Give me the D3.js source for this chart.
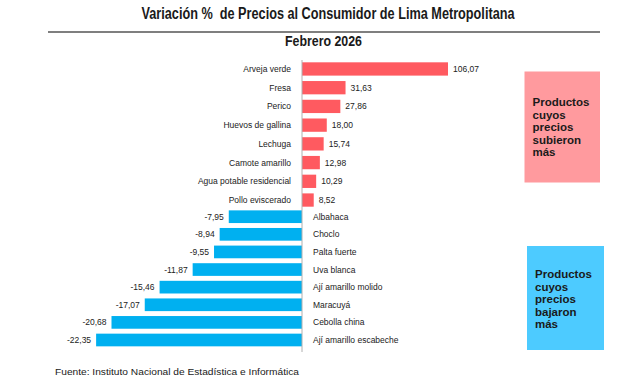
<!DOCTYPE html>
<html lang="es">
<head>
<meta charset="utf-8">
<title>Variación % de Precios al Consumidor</title>
<script src="https://d3js.org/d3.v7.min.js"></script>
<style>
  body { margin: 0; background: #fff; }
  text { font-family: "Liberation Sans", Arial, sans-serif; }
</style>
</head>
<body>
<script>
  // Data
  var posCats = ["Arveja verde", "Fresa", "Perico", "Huevos de gallina", "Lechuga",
                 "Camote amarillo", "Agua potable residencial", "Pollo eviscerado"];
  var posVals = [106.07, 31.63, 27.86, 18.00, 15.74, 12.98, 10.29, 8.52];
  var negCats = ["Albahaca", "Choclo", "Palta fuerte", "Uva blanca", "Ají amarillo molido",
                 "Maracuyá", "Cebolla china", "Ají amarillo escabeche"];
  var negVals = [-7.95, -8.94, -9.55, -11.87, -15.46, -17.07, -20.68, -22.35];
  var boxUp = ["Productos", "cuyos", "precios", "subieron", "más"];
  var boxDown = ["Productos", "cuyos", "precios", "bajaron", "más"];

  var width = 640, height = 388;
  var x0 = 302;

  var svg = d3.select("body").append("svg")
      .attr("width", width)
      .attr("height", height);

  var fmt = d3.formatLocale({ decimal: ",", thousands: ".", grouping: [3], currency: ["", ""], minus: "-" }).format(".2f");

  // the two halves use different scales (as in the original)
  var xPos = d3.scaleLinear().domain([0, 110]).range([x0, x0 + 151.4]);
  var xNeg = d3.scaleLinear().domain([-25, 0]).range([x0 - 230.3, x0]);

  var yPos = d3.scaleBand().domain(posCats).range([59.6, 209.4]).paddingInner(0.29).paddingOuter(0.145);
  var yNeg = d3.scaleBand().domain(negCats).range([207.9, 348.8]).paddingInner(0.28).paddingOuter(0.14);

  var posData = posCats.map(function(c, i) { return { cat: c, val: posVals[i] }; });
  var negData = negCats.map(function(c, i) { return { cat: c, val: negVals[i] }; });

  // Titles
  svg.append("text")
      .attr("x", 141.5).attr("y", 19)
      .attr("textLength", 373).attr("lengthAdjust", "spacingAndGlyphs")
      .style("font-family", "'Liberation Sans Narrow', 'Liberation Sans', Arial, sans-serif")
      .style("font-size", "16px").style("font-weight", "bold").style("white-space", "pre")
      .attr("fill", "#1a1a1a")
      .text("Variación %  de Precios al Consumidor de Lima Metropolitana");

  svg.append("line")
      .attr("x1", 48).attr("x2", 600).attr("y1", 32).attr("y2", 32)
      .attr("stroke", "#555").attr("stroke-width", 1.5);

  svg.append("text")
      .attr("x", 285).attr("y", 45.5)
      .attr("textLength", 77).attr("lengthAdjust", "spacingAndGlyphs")
      .style("font-family", "'Liberation Sans Narrow', 'Liberation Sans', Arial, sans-serif")
      .style("font-size", "14px").style("font-weight", "bold").attr("fill", "#1a1a1a")
      .text("Febrero 2026");

  // Positive bars
  var gp = svg.append("g");
  gp.selectAll("rect").data(posData).enter().append("rect")
      .attr("x", x0)
      .attr("y", function(d) { return yPos(d.cat); })
      .attr("width", function(d) { return xPos(d.val) - x0; })
      .attr("height", yPos.bandwidth())
      .attr("fill", "#ff5a60");
  gp.selectAll(".cat").data(posData).enter().append("text")
      .attr("x", x0 - 11)
      .attr("y", function(d) { return yPos(d.cat) + yPos.bandwidth() / 2; })
      .attr("dy", "0.35em").attr("text-anchor", "end")
      .style("font-size", "8.5px").attr("fill", "#222")
      .text(function(d) { return d.cat; });
  gp.selectAll(".val").data(posData).enter().append("text")
      .attr("x", function(d) { return xPos(d.val) + 5; })
      .attr("y", function(d) { return yPos(d.cat) + yPos.bandwidth() / 2; })
      .attr("dy", "0.35em")
      .style("font-size", "8.5px").attr("fill", "#222")
      .text(function(d) { return fmt(d.val); });

  // Negative bars
  var gn = svg.append("g");
  gn.selectAll("rect").data(negData).enter().append("rect")
      .attr("x", function(d) { return xNeg(d.val); })
      .attr("y", function(d) { return yNeg(d.cat); })
      .attr("width", function(d) { return x0 - xNeg(d.val); })
      .attr("height", yNeg.bandwidth())
      .attr("fill", "#00b0f0");
  gn.selectAll(".cat").data(negData).enter().append("text")
      .attr("x", x0 + 11)
      .attr("y", function(d) { return yNeg(d.cat) + yNeg.bandwidth() / 2; })
      .attr("dy", "0.35em")
      .style("font-size", "8.5px").attr("fill", "#222")
      .text(function(d) { return d.cat; });
  gn.selectAll(".val").data(negData).enter().append("text")
      .attr("x", function(d) { return xNeg(d.val) - 5; })
      .attr("y", function(d) { return yNeg(d.cat) + yNeg.bandwidth() / 2; })
      .attr("dy", "0.35em").attr("text-anchor", "end")
      .style("font-size", "8.5px").attr("fill", "#222")
      .text(function(d) { return fmt(d.val); });

  // zero axis
  svg.append("line")
      .attr("x1", x0).attr("x2", x0).attr("y1", 60).attr("y2", 352)
      .attr("stroke", "#b0b0b0").attr("stroke-width", 1);

  // Side boxes
  function box(x, y, w, h, fill, lines, ty) {
    svg.append("rect").attr("x", x).attr("y", y).attr("width", w).attr("height", h).attr("fill", fill);
    svg.append("g").selectAll("text").data(lines).enter().append("text")
        .attr("x", x + 8)
        .attr("y", function(d, i) { return ty + i * 12.5; })
        .style("font-size", "11.5px").style("font-weight", "bold").attr("fill", "#1a1a1a")
        .text(function(d) { return d; });
  }
  box(524.5, 71.5, 75.5, 111, "#ff9a9e", boxUp, 106);
  box(527, 246, 77, 104, "#4dcbff", boxDown, 278);

  // Source
  svg.append("text")
      .attr("x", 55).attr("y", 375)
      .attr("textLength", 244).attr("lengthAdjust", "spacingAndGlyphs")
      .style("font-size", "9px").attr("fill", "#1a1a1a")
      .text("Fuente: Instituto Nacional de Estadística e Informática");
</script>
</body>
</html>
